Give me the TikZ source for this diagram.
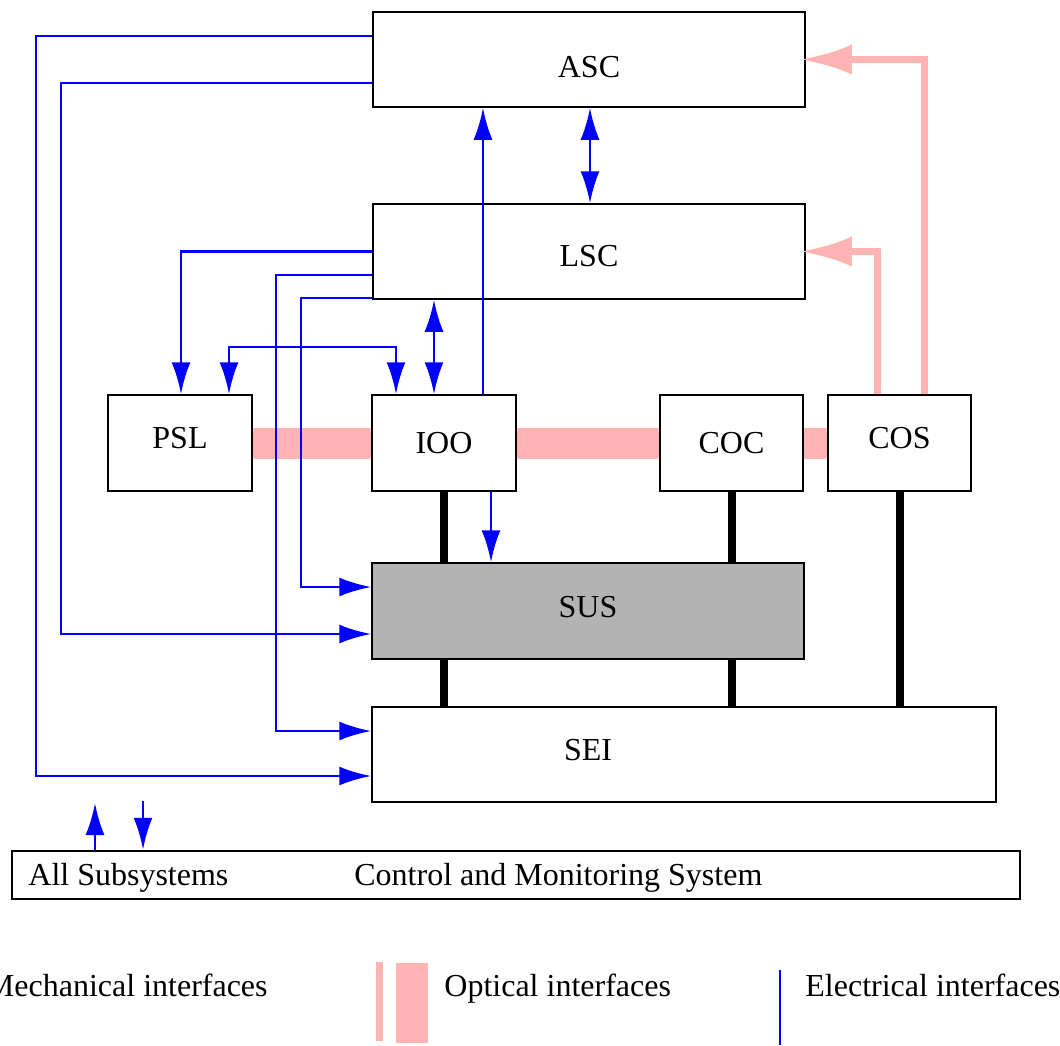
\documentclass[tikz,border=0pt]{standalone}
\usepackage{fontspec}
\setmainfont{Liberation Serif}
\usetikzlibrary{arrows.meta}
\definecolor{optpink}{RGB}{255,179,179}
\definecolor{susgray}{RGB}{179,179,179}
\tikzset{block/.style = {shape=rectangle,draw,fill=white,line width=0.75pt,inner sep=0pt}}
\tikzset{txt/.style = {inner sep=0pt}}
\tikzset{elec/.style = {draw=blue,line width=1.4pt,>={Latex[length=16pt,width=9.5pt]},->}}
\tikzset{optic/.style = {draw=optpink,line width=3.5pt,-{Latex[length=26pt,width=15pt]},shorten >=-3pt}}
\tikzset{opticbar/.style = {draw=optpink,line width=15.5pt}}
\tikzset{mech/.style = {draw=black,line width=4pt}}

\begin{document}
\begin{tikzpicture}[x=0.5pt,y=-0.5pt,font=\fontsize{16}{19}\selectfont]
		\useasboundingbox (0,0) rectangle (1060,1045);

		% optical bench
		\coordinate (pslE) at (252,443.5);
		\coordinate (cosW) at (828,443.5);
		\draw[opticbar] (pslE) -- (cosW);

		% subsystems
		\node[block,minimum width=216pt,minimum height=47.5pt,text height=18pt,text depth=0pt] (asc) at (589,59.5) {ASC};
		\node[block,minimum width=216pt,minimum height=47.5pt,text height=14.5pt,text depth=0pt] (lsc) at (589,251.5) {LSC};
		\node[block,minimum width=72pt,minimum height=48pt,text height=5.5pt,text depth=0pt] (psl) at (180,443) {PSL};
		\node[block,minimum width=72pt,minimum height=48pt] (ioo) at (444,443) {IOO};
		\node[block,minimum width=71.5pt,minimum height=48pt] (coc) at (731.5,443) {COC};
		\node[block,minimum width=71.5pt,minimum height=48pt,text height=5.5pt,text depth=0pt] (cos) at (899.5,443) {COS};
		\node[block,fill=susgray,minimum width=216pt,minimum height=48pt,text height=6.5pt,text depth=0pt] (sus) at (588,611) {SUS};
		\node[block,minimum width=312pt,minimum height=47.5pt] (sei) at (684,754.5) {};
		\node[txt] (seitxt) at (588,750) {SEI};
		\node[block,line width=1.25pt,minimum width=504pt,minimum height=24pt] (cms) at (516,875) {};
		\node[txt,anchor=base west] (cmsall) at (28,885) {All Subsystems};
		\node[txt,anchor=base west] (cmstxt) at (354,885) {Control and Monitoring System};

		% mechanical
		\draw[mech] (ioo.south) -- (sus.north -| ioo.south);
		\draw[mech] (sus.south -| ioo.south) -- (sei.north -| ioo.south);
		\draw[mech] (coc.south) -- (sus.north -| coc.south);
		\draw[mech] (sus.south -| coc.south) -- (sei.north -| coc.south);
		\draw[mech] (cos.south) -- (sei.north -| cos.south);

		% optical
		\draw[optic] (cos.north -| 877,0) |- (lsc.east);
		\draw[optic] (cos.north -| 924,0) |- (asc.east);

		% electrical
		\draw[elec] (asc.west |- 0,36) -| (36,776) -- (sei.west |- 0,776);
		\draw[elec] (asc.west |- 0,83) -| (61,634) -- (sus.west |- 0,634);
		\draw[elec] (lsc.west) -| (psl.north -| 181,0);
		\draw[elec] (lsc.west |- 0,275) -| (276,731) -- (sei.west |- 0,731);
		\draw[elec] (lsc.west |- 0,298) -| (301,587) -- (sus.west |- 0,587);
		\draw[elec,<->] (psl.north -| 229,0) -- (229,347) -- (396,347) -- (ioo.north -| 396,0);
		\draw[elec,<->] (lsc.south -| 434,0) -- (ioo.north -| 434,0);
		\draw[elec] (ioo.north -| 483,0) -- (asc.south -| 483,0);
		\draw[elec,<->] (asc.south -| 590,0) -- (lsc.north -| 590,0);
		\draw[elec] (ioo.south -| 491,0) -- (sus.north -| 491,0);
		\coordinate (cmsup) at (95,803);
		\coordinate (cmsdown) at (143,801);
		\draw[elec] (cms.north -| cmsup) -- (cmsup);
		\draw[elec] (cmsdown) -- (cms.north -| cmsdown);

		% legend
		\node[txt,anchor=base east] (legmech) at (268,996) {Mechanical interfaces};
		\fill[optpink] (376,962) rectangle (383,1041);
		\fill[optpink] (396,963) rectangle (428,1043);
		\node[txt,anchor=base west] (legopt) at (444,996) {Optical interfaces};
		\draw[blue,line width=1.4pt] (780,970) -- (780,1045);
		\node[txt,anchor=base west] (legelec) at (805,996) {Electrical interfaces};
	\end{tikzpicture}
\end{document}
